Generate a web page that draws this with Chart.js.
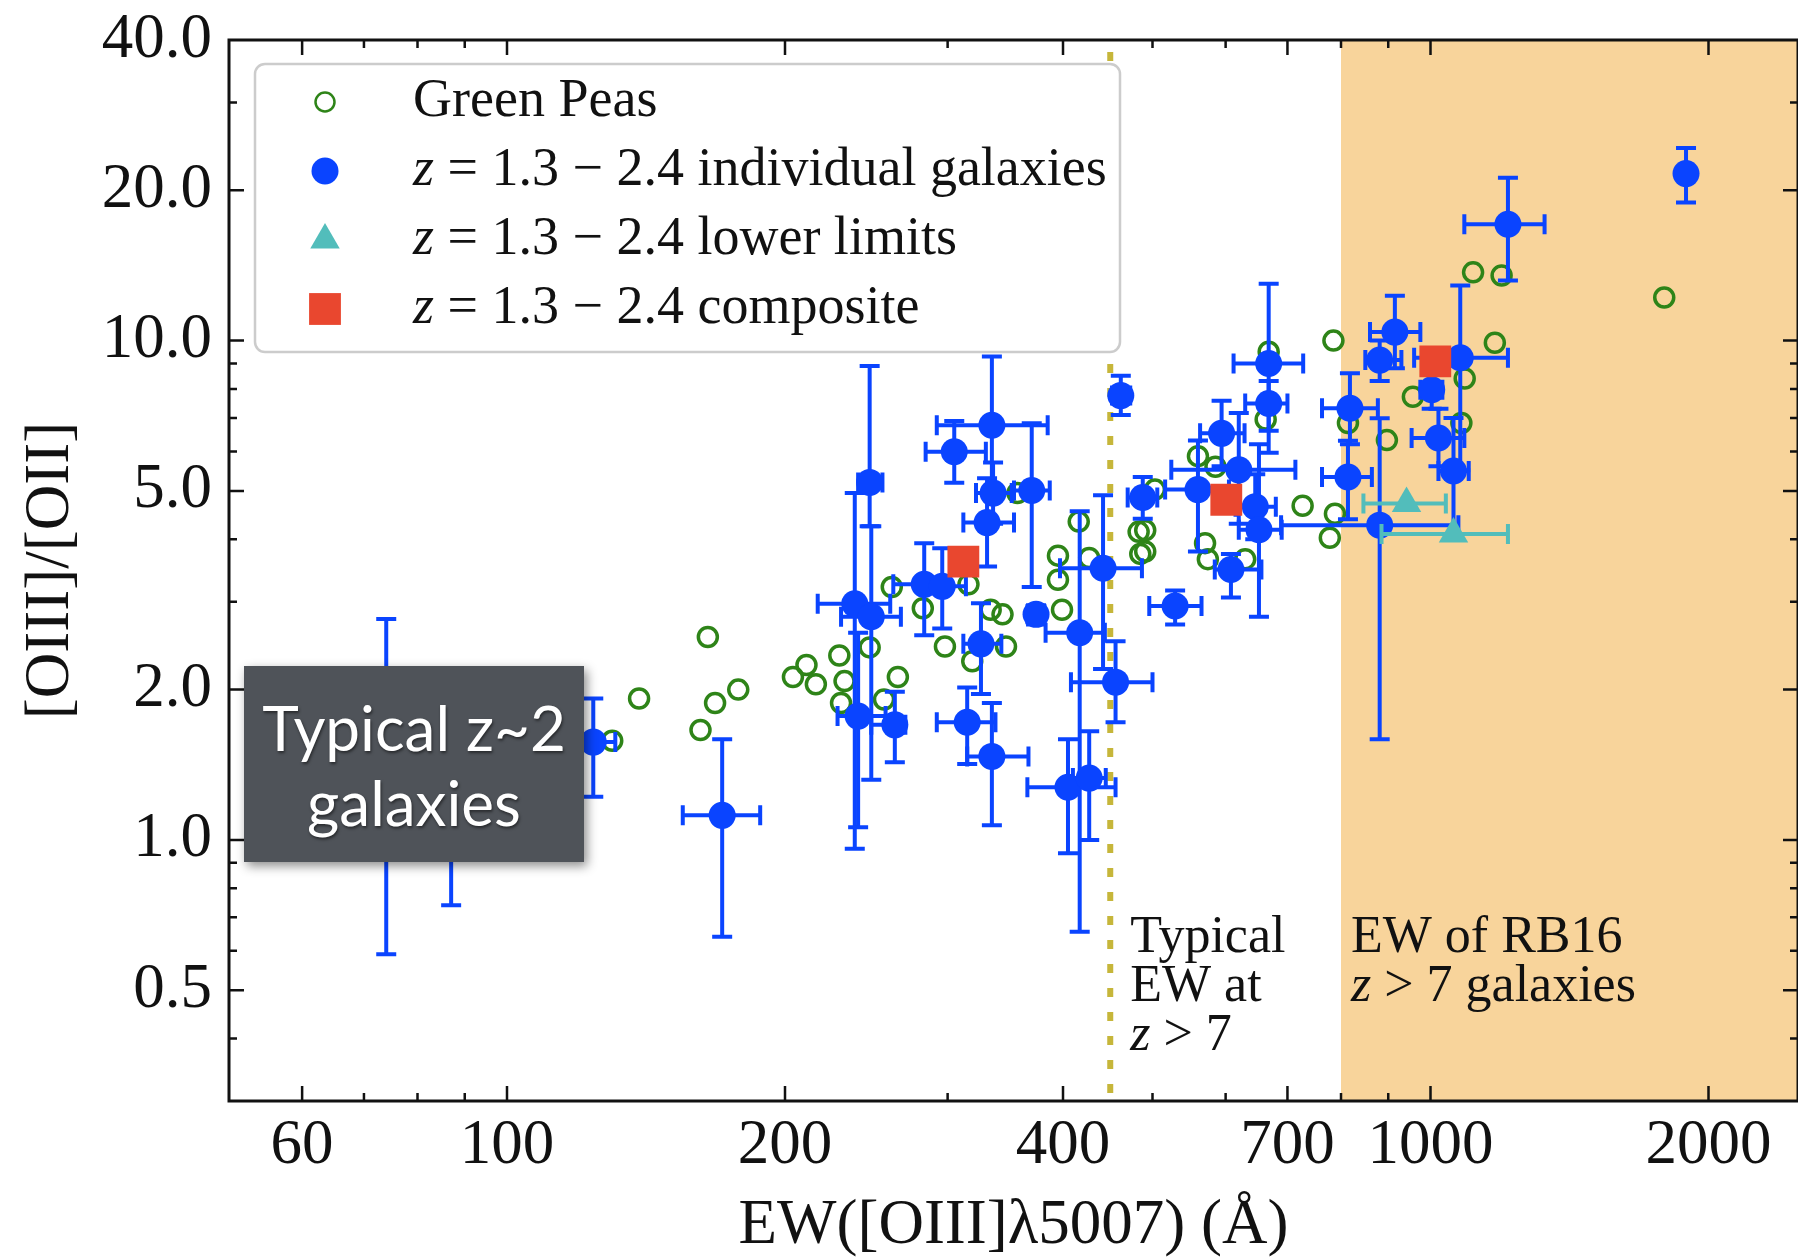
<!DOCTYPE html>
<html>
<head>
<meta charset="utf-8">
<title>[OIII]/[OII] vs EW([OIII])</title>
<script src="https://cdn.jsdelivr.net/npm/chart.js@4.4.0/dist/chart.umd.min.js"></script>
<style>
  html, body { margin: 0; padding: 0; background: #fff; }
  #wrap { width: 1798px; height: 1259px; }
</style>
</head>
<body>
<div id="wrap"><canvas id="ratioChart" width="1798" height="1259"></canvas></div>
<script>
// Green Peas
const peaEW = [130, 139, 165, 168, 178, 162, 204, 211, 216, 229, 232, 230, 247, 265, 256, 261,
  282, 298, 316, 319, 334, 344, 347, 357, 395, 395, 399, 416, 427, 483, 491, 485, 491, 503,
  560, 585, 570, 574, 630, 668, 663, 727, 785, 788, 778, 814, 897, 957, 1080, 1089, 1174,
  1112, 1194, 1791];
const peaRatio = [1.58, 1.92, 2.55, 1.88, 2.0, 1.66, 2.12, 2.24, 2.05, 2.34, 2.08, 1.88, 2.43, 2.12, 1.91, 3.21,
  2.91, 2.44, 3.25, 2.28, 2.89, 2.83, 2.44, 4.95, 3.71, 3.32, 2.89, 4.34, 3.67, 4.14, 4.17, 3.74, 3.78, 5.03,
  5.87, 5.59, 3.93, 3.65, 3.65, 9.5, 6.95, 4.67, 10.0, 4.5, 4.03, 6.84, 6.32, 7.72, 6.84, 8.4, 9.9,
  13.7, 13.5, 12.2];

// z = 1.3-2.4 individual galaxies, with EW and ratio error ranges
const galEW   = [74, 87, 124, 171, 247, 238, 248, 240, 263, 283, 296, 305, 335, 331, 336, 326, 315, 335,
  370, 374, 417, 442, 456, 405, 427, 462, 488, 529, 560, 594, 620, 646, 652, 608, 668, 668,
  881, 818, 814, 915, 881, 1077, 1003, 1020, 1059, 1213, 1891];
const galEWLo = [68, 81, 117, 155, 240, 217, 230, 228, 248, 262, 280, 284, 292, 312, 322, 312, 292, 315,
  354, 366, 383, 397, 408, 366, 410, 452, 470, 496, 516, 563, 524, 615, 620, 584, 612, 630,
  689, 763, 763, 860, 850, 960, 975, 954, 1020, 1088, 1865];
const galEWHi = [80, 93, 131, 188, 255, 260, 267, 257, 270, 300, 314, 330, 385, 354, 352, 343, 338, 367,
  387, 382, 444, 487, 500, 456, 445, 473, 506, 565, 605, 629, 714, 680, 690, 656, 728, 700,
  1072, 877, 864, 975, 930, 1213, 1030, 1088, 1100, 1329, 1918];
const galRatio   = [1.3, 1.2, 1.57, 1.12, 5.2, 2.97, 2.8, 1.77, 1.70, 3.25, 3.22, 5.99, 6.77, 4.32, 4.95, 2.47, 1.72, 1.47,
  5.01, 2.83, 2.60, 3.50, 2.07, 1.275, 1.33, 7.76, 4.85, 2.94, 5.03, 6.52, 5.51, 4.65, 4.18, 3.48, 9.0, 7.48,
  4.27, 7.32, 5.33, 10.4, 9.14, 9.24, 7.97, 6.38, 5.48, 17.1, 21.6];
const galRatioLo = [0.59, 0.74, 1.22, 0.64, 4.25, 0.96, 1.32, 1.06, 1.43, 2.57, 2.65, 5.19, 4.93, 3.53, 4.3, 1.96, 1.42, 1.07,
  3.21, 2.7, 0.655, 2.2, 1.72, 0.94, 1.0, 7.1, 4.4, 2.70, 3.78, 5.6, 4.3, 4.0, 2.80, 3.06, 5.96, 6.6,
  1.59, 6.2, 4.39, 8.8, 8.3, 5.5, 7.3, 5.6, 3.99, 13.2, 18.9];
const galRatioHi = [2.77, 1.7, 1.92, 1.59, 8.9, 4.95, 4.25, 2.6, 1.98, 3.93, 3.84, 6.9, 9.29, 5.3, 5.7, 2.98, 2.02, 1.88,
  6.83, 2.95, 4.55, 4.90, 2.5, 1.59, 1.65, 8.5, 5.33, 3.16, 6.31, 7.58, 7.16, 5.4, 6.2, 3.74, 13.0, 8.3,
  6.99, 8.6, 6.3, 12.3, 10.0, 12.9, 8.7, 7.3, 7.0, 21.2, 24.3];

// lower limits
const limEW = [942, 1059];
const limEWLo = [846, 885];
const limEWHi = [1039, 1213];
const limRatio = [4.72, 4.10];

// composite spectra
const compEW = [312, 601, 1012];
const compRatio = [3.61, 4.80, 9.09];

const xTicks = [60, 100, 200, 400, 700, 1000, 2000];
const xMinor = [70, 80, 90, 300, 500, 600, 800, 900];
const yTicks = [0.5, 1, 2, 5, 10, 20, 40];
const yMinor = [0.4, 0.6, 0.7, 0.8, 0.9, 3, 4, 6, 7, 8, 9, 30];

const typicalEW = 450;   // dotted marker line
const rb16MinEW = 800;   // start of shaded band

const SERIF = "'Liberation Serif', 'DejaVu Serif', serif";
const BLUE = '#0a44ff';
const GREEN = '#2e8418';
const CYAN = '#52bdbb';
const RED = '#e9472f';

const toPts = (xs, ys) => xs.map((v, i) => ({ x: v, y: ys[i] }));

function drawRuns(ctx, text, x, y, size) {
  // a leading "z" is set in italic, like math mode
  const runs = text.startsWith('z ') ? [{ t: 'z', it: true }, { t: text.slice(1) }] : [{ t: text }];
  let cx = x;
  runs.forEach(r => {
    ctx.font = (r.it ? 'italic ' : '') + size + 'px ' + SERIF;
    ctx.fillText(r.t, cx, y);
    cx += ctx.measureText(r.t).width;
  });
}

function marker(ctx, ds, x, y) {
  ctx.save();
  ctx.fillStyle = ds.backgroundColor;
  ctx.strokeStyle = ds.borderColor || ds.backgroundColor;
  Chart.helpers.drawPoint(ctx, {
    pointStyle: ds.pointStyle, radius: ds.pointRadius, rotation: 0, borderWidth: ds.borderWidth || 0
  }, x, y);
  ctx.restore();
}

const backdrop = {
  id: 'backdrop',
  beforeDatasetsDraw(chart) {
    const { ctx, chartArea: a, scales: { x } } = chart;
    ctx.save();
    const bx = x.getPixelForValue(rb16MinEW);
    ctx.fillStyle = '#f8d49b';
    ctx.fillRect(bx, a.top, a.right - bx, a.height);
    const lx = x.getPixelForValue(typicalEW);
    ctx.strokeStyle = '#c6b63a';
    ctx.lineWidth = 6;
    ctx.setLineDash([9, 15]);
    ctx.beginPath();
    ctx.moveTo(lx, a.top + 12);
    ctx.lineTo(lx, a.bottom);
    ctx.stroke();
    ctx.restore();
  }
};

const errorBars = {
  id: 'errorBars',
  beforeDatasetDraw(chart, args) {
    const ds = chart.data.datasets[args.index];
    if (!ds.errors) return;
    const { ctx, chartArea: a, scales: { x, y } } = chart;
    const e = ds.errors;
    const cap = 10;
    ctx.save();
    ctx.beginPath();
    ctx.rect(a.left, a.top, a.width, a.height);
    ctx.clip();
    ctx.strokeStyle = ds.errorColor;
    ctx.lineWidth = 4;
    ds.data.forEach((p, i) => {
      const px = x.getPixelForValue(p.x), py = y.getPixelForValue(p.y);
      ctx.beginPath();
      if (e.xLo) {
        const l = x.getPixelForValue(e.xLo[i]), r = x.getPixelForValue(e.xHi[i]);
        ctx.moveTo(l, py); ctx.lineTo(r, py);
        ctx.moveTo(l, py - cap); ctx.lineTo(l, py + cap);
        ctx.moveTo(r, py - cap); ctx.lineTo(r, py + cap);
      }
      if (e.yLo) {
        const b = y.getPixelForValue(e.yLo[i]), t = y.getPixelForValue(e.yHi[i]);
        ctx.moveTo(px, b); ctx.lineTo(px, t);
        ctx.moveTo(px - cap, b); ctx.lineTo(px + cap, b);
        ctx.moveTo(px - cap, t); ctx.lineTo(px + cap, t);
      }
      ctx.stroke();
    });
    ctx.restore();
  }
};

const frame = {
  id: 'frame',
  afterDatasetsDraw(chart) {
    const { ctx, chartArea: a, scales: { x, y } } = chart;
    ctx.save();
    ctx.strokeStyle = '#111';
    ctx.lineWidth = 2.5;
    const tick = (vals, len) => {
      vals.forEach(v => {
        const px = x.getPixelForValue(v);
        if (px > a.left && px < a.right) {
          ctx.beginPath();
          ctx.moveTo(px, a.bottom); ctx.lineTo(px, a.bottom - len);
          ctx.moveTo(px, a.top); ctx.lineTo(px, a.top + len);
          ctx.stroke();
        }
      });
    };
    const ytick = (vals, len) => {
      vals.forEach(v => {
        const py = y.getPixelForValue(v);
        if (py > a.top && py < a.bottom) {
          ctx.beginPath();
          ctx.moveTo(a.left, py); ctx.lineTo(a.left + len, py);
          ctx.moveTo(a.right, py); ctx.lineTo(a.right - len, py);
          ctx.stroke();
        }
      });
    };
    tick(xTicks, 15); tick(xMinor, 8);
    ytick(yTicks, 15); ytick(yMinor, 8);
    ctx.lineWidth = 3;
    ctx.strokeRect(a.left, a.top, a.width, a.height);

    // notes on the marker line and the band
    ctx.fillStyle = '#111';
    ctx.textBaseline = 'alphabetic';
    const lx = x.getPixelForValue(typicalEW) + 20;
    ['Typical', 'EW at', 'z > 7'].forEach((t, i) => drawRuns(ctx, t, lx, 952 + i * 49, 52));
    const bx = x.getPixelForValue(rb16MinEW) + 10;
    ['EW of RB16', 'z > 7 galaxies'].forEach((t, i) => drawRuns(ctx, t, bx, 952 + i * 49, 52));

    // legend
    const L = { left: 255, top: 64, w: 865, h: 288 };
    ctx.beginPath();
    ctx.roundRect(L.left, L.top, L.w, L.h, 10);
    ctx.fillStyle = '#ffffff';
    ctx.fill();
    ctx.strokeStyle = '#cccccc';
    ctx.lineWidth = 2.5;
    ctx.stroke();
    const order = [0, 1, 2, 3];
    order.forEach((di, row) => {
      const ds = chart.data.datasets[di];
      const cy = 102 + row * 69;
      marker(ctx, ds, 325, cy);
      ctx.fillStyle = '#111';
      drawRuns(ctx, ds.label, 413, cy + 14, 54);
    });
    ctx.restore();
  }
};

const noteBox = {
  id: 'noteBox',
  afterDraw(chart) {
    const { ctx } = chart;
    ctx.save();
    ctx.shadowColor = 'rgba(0,0,0,0.45)';
    ctx.shadowBlur = 10;
    ctx.shadowOffsetX = 3;
    ctx.shadowOffsetY = 4;
    ctx.fillStyle = '#4f5359';
    ctx.fillRect(244, 666, 340, 196);
    ctx.shadowBlur = 3;
    ctx.shadowOffsetX = 1;
    ctx.shadowOffsetY = 2;
    ctx.shadowColor = 'rgba(0,0,0,0.5)';
    ctx.fillStyle = '#ffffff';
    ctx.font = "62px Lato, 'Open Sans', sans-serif";
    ctx.textAlign = 'center';
    ctx.textBaseline = 'alphabetic';
    ctx.fillText('Typical z~2', 414, 751);
    ctx.fillText('galaxies', 414, 826);
    ctx.restore();
  }
};

const axisFont = { family: SERIF, size: 63, lineHeight: 1 };

new Chart(document.getElementById('ratioChart'), {
  type: 'scatter',
  data: {
    datasets: [
      {
        label: 'Green Peas',
        data: toPts(peaEW, peaRatio),
        pointStyle: 'circle', pointRadius: 9.5, borderWidth: 3.5,
        backgroundColor: 'rgba(0,0,0,0)', borderColor: GREEN,
        order: 4
      },
      {
        label: 'z = 1.3 − 2.4 individual galaxies',
        data: toPts(galEW, galRatio),
        pointStyle: 'circle', pointRadius: 13.5, borderWidth: 0,
        backgroundColor: BLUE, borderColor: BLUE,
        errors: { xLo: galEWLo, xHi: galEWHi, yLo: galRatioLo, yHi: galRatioHi },
        errorColor: BLUE,
        order: 3
      },
      {
        label: 'z = 1.3 − 2.4 lower limits',
        data: toPts(limEW, limRatio),
        pointStyle: 'triangle', pointRadius: 17, borderWidth: 0,
        backgroundColor: CYAN, borderColor: CYAN,
        errors: { xLo: limEWLo, xHi: limEWHi },
        errorColor: CYAN,
        order: 2
      },
      {
        label: 'z = 1.3 − 2.4 composite',
        data: toPts(compEW, compRatio),
        pointStyle: 'rect', pointRadius: 22.5, borderWidth: 0,
        backgroundColor: RED, borderColor: RED,
        order: 1
      }
    ]
  },
  options: {
    responsive: false,
    animation: false,
    devicePixelRatio: 1,
    events: [],
    layout: { autoPadding: false, padding: { top: 40, right: 0, bottom: 0, left: 0 } },
    plugins: { legend: { display: false }, tooltip: { enabled: false } },
    elements: { point: { hoverRadius: 0 } },
    scales: {
      x: {
        type: 'logarithmic',
        position: 'bottom',
        min: 50, max: 2500, bounds: 'data',
        grid: { display: false, drawTicks: false },
        border: { display: false },
        afterBuildTicks: s => { s.ticks = xTicks.map(v => ({ value: v })); },
        afterFit: s => { s.height = 158; s.paddingLeft = 0; s.paddingRight = 0; },
        ticks: { autoSkip: false, maxRotation: 0, padding: 14, color: '#111', font: axisFont,
          callback: v => String(v) },
        title: { display: true, text: 'EW([OIII]λ5007) (Å)', color: '#111', font: axisFont,
          padding: { top: 0, bottom: 1 } }
      },
      y: {
        type: 'logarithmic',
        position: 'left',
        min: 0.3, max: 40, bounds: 'data',
        grid: { display: false, drawTicks: false },
        border: { display: false },
        afterBuildTicks: s => { s.ticks = yTicks.map(v => ({ value: v })); },
        afterFit: s => { s.width = 229; s.paddingTop = 0; s.paddingBottom = 0; },
        ticks: { autoSkip: false, padding: 17, color: '#111', font: axisFont,
          callback: v => Number(v).toFixed(1) },
        title: { display: true, text: '[OIII]/[OII]', color: '#111', font: axisFont,
          padding: { top: 20, bottom: 0 } }
      }
    }
  },
  plugins: [backdrop, errorBars, frame, noteBox]
});
</script>
</body>
</html>
